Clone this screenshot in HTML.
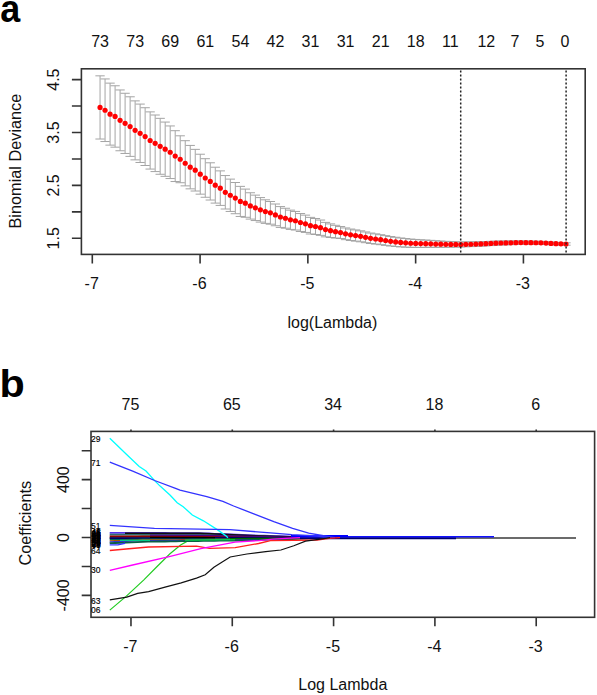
<!DOCTYPE html>
<html><head><meta charset="utf-8"><style>
html,body{margin:0;padding:0;background:#fff;}
body{width:597px;height:695px;overflow:hidden;font-family:"Liberation Sans", sans-serif;}
svg{display:block;}
</style></head><body>
<svg width="597" height="695" viewBox="0 0 597 695"><path d="M100.05 75.83V139.03M95.39 75.83H104.71M95.39 139.03H104.71M105.06 78.95V141.54M100.40 78.95H109.72M100.40 141.54H109.72M110.07 83.14V145.13M105.41 83.14H114.73M105.41 145.13H114.73M115.08 85.77V147.16M110.42 85.77H119.74M110.42 147.16H119.74M120.09 89.96V150.75M115.43 89.96H124.75M115.43 150.75H124.75M125.10 93.27V153.46M120.44 93.27H129.76M120.44 153.46H129.76M130.11 96.79V156.38M125.45 96.79H134.77M125.45 156.38H134.77M135.12 100.88V159.86M130.46 100.88H139.78M130.46 159.86H139.78M140.13 104.09V162.48M135.47 104.09H144.79M135.47 162.48H144.79M145.14 107.72V165.50M140.48 107.72H149.80M140.48 165.50H149.80M150.15 111.89V169.07M145.49 111.89H154.81M145.49 169.07H154.81M155.16 115.01V171.59M150.50 115.01H159.82M150.50 171.59H159.82M160.17 118.33V174.27M155.51 118.33H164.83M155.51 174.27H164.83M165.18 122.07V176.34M160.52 122.07H169.84M160.52 176.34H169.84M170.19 125.95V178.55M165.53 125.95H174.85M165.53 178.55H174.85M175.20 130.70V181.54M170.54 130.70H179.86M170.54 181.54H179.86M180.21 135.80V182.73M175.55 135.80H184.87M175.55 182.73H184.87M185.22 140.69V185.86M180.56 140.69H189.88M180.56 185.86H189.88M190.23 145.43V188.85M185.57 145.43H194.89M185.57 188.85H194.89M195.24 149.36V191.03M190.58 149.36H199.90M190.58 191.03H199.90M200.25 154.22V194.16M195.59 154.22H204.91M195.59 194.16H204.91M205.26 158.69V197.27M200.60 158.69H209.92M200.60 197.27H209.92M210.27 162.79V200.02M205.61 162.79H214.93M205.61 200.02H214.93M215.28 167.23V203.10M210.62 167.23H219.94M210.62 203.10H219.94M220.29 170.88V205.41M215.63 170.88H224.95M215.63 205.41H224.95M225.30 175.56V209.00M220.64 175.56H229.96M220.64 209.00H229.96M230.31 179.11V211.44M225.65 179.11H234.97M225.65 211.44H234.97M235.32 182.50V213.73M230.66 182.50H239.98M230.66 213.73H239.98M240.33 186.37V216.45M235.67 186.37H244.99M235.67 216.45H244.99M245.34 189.10V217.28M240.68 189.10H250.00M240.68 217.28H250.00M250.35 192.76V219.10M245.69 192.76H255.01M245.69 219.10H255.01M255.36 195.13V220.55M250.70 195.13H260.02M250.70 220.55H260.02M260.37 197.58V222.09M255.71 197.58H265.03M255.71 222.09H265.03M265.38 199.80V223.39M260.72 199.80H270.04M260.72 223.39H270.04M270.39 201.52V224.19M265.73 201.52H275.05M265.73 224.19H275.05M275.40 204.00V225.75M270.74 204.00H280.06M270.74 225.75H280.06M280.41 206.58V227.42M275.75 206.58H285.07M275.75 227.42H285.07M285.42 208.26V228.21M280.76 208.26H290.08M280.76 228.21H290.08M290.43 210.14V229.42M285.77 210.14H295.09M285.77 229.42H295.09M295.44 211.45V230.06M290.78 211.45H300.10M290.78 230.06H300.10M300.45 213.54V231.48M295.79 213.54H305.11M295.79 231.48H305.11M305.46 215.14V232.43M300.80 215.14H310.12M300.80 232.43H310.12M310.47 217.36V233.99M305.81 217.36H315.13M305.81 233.99H315.13M315.48 218.51V234.50M310.82 218.51H320.14M310.82 234.50H320.14M320.49 220.04V235.35M315.83 220.04H325.15M315.83 235.35H325.15M325.50 222.38V236.84M320.84 222.38H330.16M320.84 236.84H330.16M330.51 223.90V237.51M325.85 223.90H335.17M325.85 237.51H335.17M335.52 225.30V238.06M330.86 225.30H340.18M330.86 238.06H340.18M340.53 226.55V238.52M335.87 226.55H345.19M335.87 238.52H345.19M345.54 227.95V239.67M340.88 227.95H350.20M340.88 239.67H350.20M350.55 229.05V240.52M345.89 229.05H355.21M345.89 240.52H355.21M355.56 229.92V241.14M350.90 229.92H360.22M350.90 241.14H360.22M360.57 230.83V241.80M355.91 230.83H365.23M355.91 241.80H365.23M365.58 231.96V242.68M360.92 231.96H370.24M360.92 242.68H370.24M370.59 233.05V243.52M365.93 233.05H375.25M365.93 243.52H375.25M375.60 233.87V244.09M370.94 233.87H380.26M370.94 244.09H380.26M380.61 234.71V244.68M375.95 234.71H385.27M375.95 244.68H385.27M385.62 235.64V245.36M380.96 235.64H390.28M380.96 245.36H390.28M390.63 236.54V246.01M385.97 236.54H395.29M385.97 246.01H395.29M395.64 237.27V246.49M390.98 237.27H400.30M390.98 246.49H400.30M400.65 237.97V246.93M395.99 237.97H405.31M395.99 246.93H405.31M405.66 238.54V247.16M401.00 238.54H410.32M401.00 247.16H410.32M410.67 239.08V247.37M406.01 239.08H415.33M406.01 247.37H415.33M415.68 239.45V247.40M411.02 239.45H420.34M411.02 247.40H420.34M420.69 239.80V247.42M416.03 239.80H425.35M416.03 247.42H425.35M425.70 240.07V247.36M421.04 240.07H430.36M421.04 247.36H430.36M430.71 240.35V247.30M426.05 240.35H435.37M426.05 247.30H435.37M435.72 240.72V247.34M431.06 240.72H440.38M431.06 247.34H440.38M440.73 241.07V247.36M436.07 241.07H445.39M436.07 247.36H445.39M445.74 241.34V247.29M441.08 241.34H450.40M441.08 247.29H450.40M450.75 241.60V247.22M446.09 241.60H455.41M446.09 247.22H455.41M455.76 241.82V247.10M451.10 241.82H460.42M451.10 247.10H460.42M460.77 241.99V246.97M456.11 241.99H465.43M456.11 246.97H465.43M465.78 241.93V246.78M461.12 241.93H470.44M461.12 246.78H470.44M470.79 241.86V246.60M466.13 241.86H475.45M466.13 246.60H475.45M475.80 241.80V246.41M471.14 241.80H480.46M471.14 246.41H480.46M480.81 241.71V246.20M476.15 241.71H485.47M476.15 246.20H485.47M485.82 241.53V245.89M481.16 241.53H490.48M481.16 245.89H490.48M490.83 241.34V245.58M486.17 241.34H495.49M486.17 245.58H495.49M495.84 241.15V245.27M491.18 241.15H500.50M491.18 245.27H500.50M500.85 240.98V244.98M496.19 240.98H505.51M496.19 244.98H505.51M505.86 240.95V244.82M501.20 240.95H510.52M501.20 244.82H510.52M510.87 240.91V244.66M506.21 240.91H515.53M506.21 244.66H515.53M515.88 240.87V244.50M511.22 240.87H520.54M511.22 244.50H520.54M520.89 240.86V244.36M516.23 240.86H525.55M516.23 244.36H525.55M525.90 240.97V244.35M521.24 240.97H530.56M521.24 244.35H530.56M530.91 241.08V244.34M526.25 241.08H535.57M526.25 244.34H535.57M535.92 241.19V244.33M531.26 241.19H540.58M531.26 244.33H540.58M540.93 241.34V244.36M536.27 241.34H545.59M536.27 244.36H545.59M545.94 241.67V244.56M541.28 241.67H550.60M541.28 244.56H550.60M550.95 242.00V244.77M546.29 242.00H555.61M546.29 244.77H555.61M555.96 242.31V244.96M551.30 242.31H560.62M551.30 244.96H560.62M560.97 242.56V245.08M556.31 242.56H565.63M556.31 245.08H565.63M565.98 242.80V245.20M561.32 242.80H570.64M561.32 245.20H570.64" stroke="#a4a4a4" stroke-width="1" fill="none"/><g fill="#ff0000"><circle cx="100.05" cy="107.43" r="2.6"/><circle cx="105.06" cy="110.25" r="2.6"/><circle cx="110.07" cy="114.13" r="2.6"/><circle cx="115.08" cy="116.46" r="2.6"/><circle cx="120.09" cy="120.35" r="2.6"/><circle cx="125.10" cy="123.36" r="2.6"/><circle cx="130.11" cy="126.58" r="2.6"/><circle cx="135.12" cy="130.37" r="2.6"/><circle cx="140.13" cy="133.29" r="2.6"/><circle cx="145.14" cy="136.61" r="2.6"/><circle cx="150.15" cy="140.48" r="2.6"/><circle cx="155.16" cy="143.30" r="2.6"/><circle cx="160.17" cy="146.30" r="2.6"/><circle cx="165.18" cy="149.21" r="2.6"/><circle cx="170.19" cy="152.25" r="2.6"/><circle cx="175.20" cy="156.12" r="2.6"/><circle cx="180.21" cy="159.27" r="2.6"/><circle cx="185.22" cy="163.27" r="2.6"/><circle cx="190.23" cy="167.14" r="2.6"/><circle cx="195.24" cy="170.19" r="2.6"/><circle cx="200.25" cy="174.19" r="2.6"/><circle cx="205.26" cy="177.98" r="2.6"/><circle cx="210.27" cy="181.41" r="2.6"/><circle cx="215.28" cy="185.16" r="2.6"/><circle cx="220.29" cy="188.14" r="2.6"/><circle cx="225.30" cy="192.28" r="2.6"/><circle cx="230.31" cy="195.27" r="2.6"/><circle cx="235.32" cy="198.12" r="2.6"/><circle cx="240.33" cy="201.41" r="2.6"/><circle cx="245.34" cy="203.19" r="2.6"/><circle cx="250.35" cy="205.93" r="2.6"/><circle cx="255.36" cy="207.84" r="2.6"/><circle cx="260.37" cy="209.83" r="2.6"/><circle cx="265.38" cy="211.59" r="2.6"/><circle cx="270.39" cy="212.86" r="2.6"/><circle cx="275.40" cy="214.88" r="2.6"/><circle cx="280.41" cy="217.00" r="2.6"/><circle cx="285.42" cy="218.23" r="2.6"/><circle cx="290.43" cy="219.78" r="2.6"/><circle cx="295.44" cy="220.76" r="2.6"/><circle cx="300.45" cy="222.51" r="2.6"/><circle cx="305.46" cy="223.78" r="2.6"/><circle cx="310.47" cy="225.68" r="2.6"/><circle cx="315.48" cy="226.51" r="2.6"/><circle cx="320.49" cy="227.70" r="2.6"/><circle cx="325.50" cy="229.61" r="2.6"/><circle cx="330.51" cy="230.70" r="2.6"/><circle cx="335.52" cy="231.68" r="2.6"/><circle cx="340.53" cy="232.54" r="2.6"/><circle cx="345.54" cy="233.81" r="2.6"/><circle cx="350.55" cy="234.78" r="2.6"/><circle cx="355.56" cy="235.53" r="2.6"/><circle cx="360.57" cy="236.31" r="2.6"/><circle cx="365.58" cy="237.32" r="2.6"/><circle cx="370.59" cy="238.28" r="2.6"/><circle cx="375.60" cy="238.98" r="2.6"/><circle cx="380.61" cy="239.70" r="2.6"/><circle cx="385.62" cy="240.50" r="2.6"/><circle cx="390.63" cy="241.28" r="2.6"/><circle cx="395.64" cy="241.88" r="2.6"/><circle cx="400.65" cy="242.45" r="2.6"/><circle cx="405.66" cy="242.85" r="2.6"/><circle cx="410.67" cy="243.23" r="2.6"/><circle cx="415.68" cy="243.43" r="2.6"/><circle cx="420.69" cy="243.61" r="2.6"/><circle cx="425.70" cy="243.71" r="2.6"/><circle cx="430.71" cy="243.83" r="2.6"/><circle cx="435.72" cy="244.03" r="2.6"/><circle cx="440.73" cy="244.21" r="2.6"/><circle cx="445.74" cy="244.31" r="2.6"/><circle cx="450.75" cy="244.41" r="2.6"/><circle cx="455.76" cy="244.46" r="2.6"/><circle cx="460.77" cy="244.48" r="2.6"/><circle cx="465.78" cy="244.36" r="2.6"/><circle cx="470.79" cy="244.23" r="2.6"/><circle cx="475.80" cy="244.10" r="2.6"/><circle cx="480.81" cy="243.96" r="2.6"/><circle cx="485.82" cy="243.71" r="2.6"/><circle cx="490.83" cy="243.46" r="2.6"/><circle cx="495.84" cy="243.21" r="2.6"/><circle cx="500.85" cy="242.98" r="2.6"/><circle cx="505.86" cy="242.88" r="2.6"/><circle cx="510.87" cy="242.78" r="2.6"/><circle cx="515.88" cy="242.68" r="2.6"/><circle cx="520.89" cy="242.61" r="2.6"/><circle cx="525.90" cy="242.66" r="2.6"/><circle cx="530.91" cy="242.71" r="2.6"/><circle cx="535.92" cy="242.76" r="2.6"/><circle cx="540.93" cy="242.85" r="2.6"/><circle cx="545.94" cy="243.12" r="2.6"/><circle cx="550.95" cy="243.38" r="2.6"/><circle cx="555.96" cy="243.63" r="2.6"/><circle cx="560.97" cy="243.82" r="2.6"/><circle cx="565.98" cy="244.00" r="2.6"/></g><path d="M460.7 68.8V254.4M566.1 68.8V254.4" stroke="#222" stroke-width="1.5" stroke-dasharray="2 2" stroke-dashoffset="2.4" fill="none"/><rect x="81.4" y="68.8" width="503.8" height="185.6" fill="none" stroke="#333" stroke-width="1.6"/><path d="M71.9 238.30H81.4M71.9 211.85H81.4M71.9 185.40H81.4M71.9 158.95H81.4M71.9 132.50H81.4M71.9 106.05H81.4M71.9 79.60H81.4M92.30 254.4V263.6M200.08 254.4V263.6M307.86 254.4V263.6M415.64 254.4V263.6M523.42 254.4V263.6" stroke="#333" stroke-width="1.6" fill="none"/><g font-family='"Liberation Sans", sans-serif' font-size="16" fill="#111"><text transform="translate(58.6,238.30) rotate(-90)" text-anchor="middle">1.5</text><text transform="translate(58.6,185.40) rotate(-90)" text-anchor="middle">2.5</text><text transform="translate(58.6,132.50) rotate(-90)" text-anchor="middle">3.5</text><text transform="translate(58.6,79.60) rotate(-90)" text-anchor="middle">4.5</text><text x="91.70" y="289.3" text-anchor="middle">-7</text><text x="199.48" y="289.3" text-anchor="middle">-6</text><text x="307.26" y="289.3" text-anchor="middle">-5</text><text x="415.04" y="289.3" text-anchor="middle">-4</text><text x="522.82" y="289.3" text-anchor="middle">-3</text><text x="100.10" y="46.5" text-anchor="middle">73</text><text x="135.20" y="46.5" text-anchor="middle">73</text><text x="170.20" y="46.5" text-anchor="middle">69</text><text x="205.30" y="46.5" text-anchor="middle">61</text><text x="240.40" y="46.5" text-anchor="middle">54</text><text x="275.50" y="46.5" text-anchor="middle">42</text><text x="310.50" y="46.5" text-anchor="middle">31</text><text x="345.60" y="46.5" text-anchor="middle">31</text><text x="380.70" y="46.5" text-anchor="middle">21</text><text x="415.70" y="46.5" text-anchor="middle">18</text><text x="450.30" y="46.5" text-anchor="middle">11</text><text x="486.30" y="46.5" text-anchor="middle">12</text><text x="514.90" y="46.5" text-anchor="middle">7</text><text x="540.00" y="46.5" text-anchor="middle">5</text><text x="564.90" y="46.5" text-anchor="middle">0</text><text x="332.4" y="327.7" text-anchor="middle">log(Lambda)</text><text transform="translate(21.4,161.1) rotate(-90)" text-anchor="middle" font-size="16.3">Binomial Deviance</text></g><svg x="91.0" y="431.4" width="503.6" height="185.89999999999998" viewBox="91.0 431.4 503.6 185.89999999999998" overflow="hidden"><path d="M109.7 538.0L576.0 538.0" stroke="#3a3a3a" stroke-width="1.3" fill="none"/><path d="M109.8 610.1L126.1 596.4L143.6 580.1L156.6 567.0L169.7 554.0L180.6 545.0L188.8 540.4L200.0 539.3L240.0 538.5L280.0 537.7" stroke="#22cc22" stroke-width="1.2" fill="none"/><path d="M109.7 532.9L115.2 532.9L120.7 532.9L126.3 532.9L131.8 533.0L137.3 533.0L142.8 533.0L148.3 533.0L153.9 533.0L159.4 533.0L164.9 533.0L170.4 533.1L175.9 533.1L181.5 533.1L187.0 533.1L192.5 533.1L198.0 533.1L203.5 533.3L209.1 533.5L214.6 533.8L220.1 534.0L225.6 534.2L231.2 534.5L236.7 534.7L242.2 535.0L247.7 535.2L253.2 535.4L258.8 535.6L264.3 535.7L269.8 535.9L275.3 536.1L280.8 536.2L286.4 536.4L291.9 536.6L297.4 536.8L302.9 536.9L308.4 537.1L314.0 537.3L319.5 537.5L325.0 537.7" stroke="#5533ee" stroke-width="1.8" fill="none"/><path d="M109.7 534.7L115.2 534.7L120.7 534.7L126.3 534.7L131.8 534.7L137.3 534.7L142.8 534.8L148.3 534.8L153.9 534.8L159.4 534.8L164.9 534.8L170.4 534.8L175.9 534.8L181.5 534.8L187.0 534.8L192.5 534.8L198.0 534.8L203.5 534.9L209.1 535.1L214.6 535.2L220.1 535.4L225.6 535.5L231.2 535.7L236.7 535.8L242.2 536.0L247.7 536.1L253.2 536.3L258.8 536.4L264.3 536.5L269.8 536.6L275.3 536.7L280.8 536.8L286.4 536.9L291.9 537.0L297.4 537.1L302.9 537.2L308.4 537.3L314.0 537.5L319.5 537.6L325.0 537.7" stroke="#2f6f6f" stroke-width="1.8" fill="none"/><path d="M109.7 536.4L115.2 536.4L120.7 536.4L126.3 536.4L131.8 536.4L137.3 536.4L142.8 536.4L148.3 536.4L153.9 536.4L159.4 536.4L164.9 536.4L170.4 536.4L175.9 536.4L181.5 536.5L187.0 536.5L192.5 536.5L198.0 536.5L203.5 536.5L209.1 536.6L214.6 536.6L220.1 536.7L225.6 536.8L231.2 536.8L236.7 536.9L242.2 537.0L247.7 537.0L253.2 537.1L258.8 537.1L264.3 537.2L269.8 537.2L275.3 537.3L280.8 537.3L286.4 537.3L291.9 537.4L297.4 537.4L302.9 537.5L308.4 537.5L314.0 537.6L319.5 537.6L325.0 537.7" stroke="#8b0000" stroke-width="1.9" fill="none"/><path d="M109.7 538.2L115.2 538.2L120.7 538.2L126.3 538.1L131.8 538.1L137.3 538.1L142.8 538.1L148.3 538.1L153.9 538.1L159.4 538.0L164.9 538.0L170.4 538.0L175.9 538.0L181.5 538.0L187.0 538.0L192.5 538.0L198.0 538.0L203.5 538.0L209.1 538.0L214.6 538.0L220.1 538.0L225.6 538.0L231.2 538.0L236.7 538.0L242.2 537.9L247.7 537.9L253.2 537.9L258.8 537.9L264.3 537.9L269.8 537.9L275.3 537.9L280.8 537.8L286.4 537.8L291.9 537.8L297.4 537.8L302.9 537.8L308.4 537.8L314.0 537.7L319.5 537.7L325.0 537.7" stroke="#000060" stroke-width="1.8" fill="none"/><path d="M109.7 539.7L115.2 539.6L120.7 539.5L126.3 539.5L131.8 539.4L137.3 539.3L142.8 539.2L148.3 539.2L153.9 539.1L159.4 539.1L164.9 539.1L170.4 539.0L175.9 539.0L181.5 539.0L187.0 539.0L192.5 538.9L198.0 538.9L203.5 538.9L209.1 538.9L214.6 538.8L220.1 538.8L225.6 538.8L231.2 538.7L236.7 538.7L242.2 538.7L247.7 538.6L253.2 538.6L258.8 538.5L264.3 538.5L269.8 538.4L275.3 538.3L280.8 538.3L286.4 538.2L291.9 538.2L297.4 538.1L302.9 538.0L308.4 537.9L314.0 537.9L319.5 537.8L325.0 537.7" stroke="#006655" stroke-width="1.2" fill="none"/><path d="M109.7 540.7L115.2 540.6L120.7 540.5L126.3 540.4L131.8 540.2L137.3 540.1L142.8 540.0L148.3 539.9L153.9 539.8L159.4 539.8L164.9 539.8L170.4 539.7L175.9 539.7L181.5 539.6L187.0 539.6L192.5 539.5L198.0 539.5L203.5 539.5L209.1 539.4L214.6 539.4L220.1 539.3L225.6 539.3L231.2 539.3L236.7 539.2L242.2 539.2L247.7 539.1L253.2 539.0L258.8 538.9L264.3 538.8L269.8 538.8L275.3 538.7L280.8 538.6L286.4 538.5L291.9 538.4L297.4 538.3L302.9 538.2L308.4 538.1L314.0 537.9L319.5 537.8L325.0 537.7" stroke="#aa5500" stroke-width="1.1" fill="none"/><path d="M109.7 541.8L115.2 541.6L120.7 541.5L126.3 541.3L131.8 541.2L137.3 541.0L142.8 540.9L148.3 540.7L153.9 540.6L159.4 540.6L164.9 540.5L170.4 540.4L175.9 540.4L181.5 540.3L187.0 540.3L192.5 540.2L198.0 540.2L203.5 540.1L209.1 540.1L214.6 540.0L220.1 539.9L225.6 539.9L231.2 539.8L236.7 539.8L242.2 539.7L247.7 539.6L253.2 539.5L258.8 539.4L264.3 539.3L269.8 539.1L275.3 539.0L280.8 538.9L286.4 538.8L291.9 538.7L297.4 538.5L302.9 538.3L308.4 538.2L314.0 538.0L319.5 537.9L325.0 537.7" stroke="#3333cc" stroke-width="1.2" fill="none"/><path d="M109.7 543.2L115.2 543.0L120.7 542.8L126.3 542.6L131.8 542.4L137.3 542.1L142.8 541.9L148.3 541.7L153.9 541.6L159.4 541.5L164.9 541.5L170.4 541.4L175.9 541.3L181.5 541.2L187.0 541.2L192.5 541.1L198.0 541.0L203.5 540.9L209.1 540.9L214.6 540.8L220.1 540.7L225.6 540.6L231.2 540.6L236.7 540.5L242.2 540.4L247.7 540.2L253.2 540.1L258.8 539.9L264.3 539.8L269.8 539.6L275.3 539.5L280.8 539.3L286.4 539.2L291.9 539.0L297.4 538.8L302.9 538.6L308.4 538.4L314.0 538.1L319.5 537.9L325.0 537.7" stroke="#0b5e45" stroke-width="1.8" fill="none"/><path d="M109.7 544.9L118.0 544.9L125.0 543.2" stroke="#3333ff" stroke-width="1.4" fill="none"/><path d="M125.0 533.2L200.0 533.3L250.0 535.5L290.0 536.6L320.0 537.7" stroke="#111111" stroke-width="1.4" fill="none"/><path d="M150.0 535.2L200.0 535.4L260.0 536.5L310.0 537.7" stroke="#4b0082" stroke-width="1.2" fill="none"/><path d="M120.0 540.3L150.0 540.3" stroke="#00cc88" stroke-width="1.3" fill="none"/><path d="M185.0 540.2L235.0 539.6" stroke="#00dd44" stroke-width="1.3" fill="none"/><path d="M150.0 537.3L215.0 537.6" stroke="#000000" stroke-width="1.3" fill="none"/><path d="M230.0 538.6L280.0 538.3" stroke="#006600" stroke-width="1.3" fill="none"/><path d="M300 538.3H456" stroke="#000070" stroke-width="2.1" fill="none"/><path d="M300 536.7H494" stroke="#1010ff" stroke-width="1.5" fill="none"/><path d="M291 536.0H348" stroke="#0000ff" stroke-width="2.0" fill="none"/><path d="M109.8 438.3L126.1 454.0L139.2 466.5L146.0 471.0L155.1 481.1L160.1 486.1L170.2 495.2L177.2 502.7L183.2 506.7L192.3 515.0L203.4 520.8L217.3 529.6L225.6 535.6L228.0 537.7" stroke="#00ffff" stroke-width="1.3" fill="none"/><path d="M109.8 462.2L132.7 471.2L154.6 480.5L176.2 488.6L180.0 490.2L206.8 496.6L222.9 501.4L233.6 506.0L255.1 514.3L273.8 521.6L292.6 528.3L308.7 533.1L322.1 535.5L335.0 537.7" stroke="#3333ff" stroke-width="1.3" fill="none"/><path d="M109.8 525.4L154.4 528.4L230.0 529.7L270.4 532.9L291.9 534.6L317.3 536.0L330.0 537.7" stroke="#3333ff" stroke-width="1.3" fill="none"/><path d="M109.8 550.5L126.1 549.0L148.6 547.0L196.5 546.1L209.5 548.3L235.2 547.6L258.6 543.5L270.4 540.6L317.3 540.0L329.0 538.3L340.0 537.7" stroke="#ff2020" stroke-width="1.3" fill="none"/><path d="M109.8 570.4L132.7 565.0L170.3 556.3L200.8 548.7L235.0 542.2L258.6 540.6L272.7 539.2L300.0 537.7" stroke="#ff00ff" stroke-width="1.3" fill="none"/><path d="M109.8 599.9L126.8 597.1L137.7 593.4L148.6 591.6L166.0 586.8L181.2 582.9L196.5 578.1L205.2 574.8L213.9 567.2L222.6 561.8L230.2 557.0L246.9 554.0L265.7 551.7L280.9 550.0L293.8 545.8L305.5 541.1L322.0 538.8L330.0 537.7" stroke="#111" stroke-width="1.2" fill="none"/></svg><rect x="91.0" y="431.4" width="503.6" height="185.9" fill="none" stroke="#333" stroke-width="1.6"/><path d="M81.7 595.38H91.0M81.7 566.44H91.0M81.7 537.50H91.0M81.7 508.56H91.0M81.7 479.62H91.0M81.7 450.68H91.0M130.97 617.3V626.3M130.97 431.4V429.4M232.28 617.3V626.3M232.28 431.4V429.4M333.59 617.3V626.3M333.59 431.4V429.4M434.90 617.3V626.3M434.90 431.4V429.4M536.21 617.3V626.3M536.21 431.4V429.4" stroke="#333" stroke-width="1.6" fill="none"/><g font-family='"Liberation Sans", sans-serif' font-size="16" fill="#111"><text transform="translate(68.7,595.38) rotate(-90)" text-anchor="middle">-400</text><text transform="translate(68.7,537.50) rotate(-90)" text-anchor="middle">0</text><text transform="translate(68.7,479.62) rotate(-90)" text-anchor="middle">400</text><text x="130.37" y="651.6" text-anchor="middle">-7</text><text x="231.68" y="651.6" text-anchor="middle">-6</text><text x="332.99" y="651.6" text-anchor="middle">-5</text><text x="434.30" y="651.6" text-anchor="middle">-4</text><text x="535.61" y="651.6" text-anchor="middle">-3</text><text x="130.47" y="409.5" text-anchor="middle">75</text><text x="231.78" y="409.5" text-anchor="middle">65</text><text x="333.09" y="409.5" text-anchor="middle">34</text><text x="434.40" y="409.5" text-anchor="middle">18</text><text x="535.71" y="409.5" text-anchor="middle">6</text><text x="342.8" y="690.2" text-anchor="middle">Log Lambda</text><text transform="translate(31.3,523.15) rotate(-90)" text-anchor="middle" font-size="16.3">Coefficients</text></g><g font-family='"Liberation Sans", sans-serif' font-size="8.5" fill="#000" stroke="#000" stroke-width="0.15"><text x="91.0" y="441.9">29</text><text x="91.0" y="465.8">71</text><text x="91.0" y="528.6">51</text><text x="91.0" y="553.8">64</text><text x="91.0" y="573.3">30</text><text x="91.0" y="603.8">63</text><text x="91.0" y="612.8">06</text><g font-weight="bold"><text x="91.4" y="535.4">48</text><text x="91.4" y="536.4">11</text><text x="91.4" y="537.4">80</text><text x="91.4" y="538.4">45</text><text x="91.4" y="539.4">19</text><text x="91.4" y="540.4">88</text><text x="91.4" y="541.4">23</text><text x="91.4" y="542.4">33</text><text x="91.4" y="543.4">08</text><text x="91.4" y="544.4">47</text><text x="91.4" y="545.4">56</text><text x="91.4" y="546.4">39</text><text x="91.4" y="547.4">20</text><text x="91.4" y="548.4">68</text></g></g><text transform="translate(0.2,22) scale(0.91,1)" font-family='"Liberation Sans", sans-serif' font-size="39.5" font-weight="bold" fill="#000">a</text><text transform="translate(-0.6,397.4) scale(1.06,1)" font-family='"Liberation Sans", sans-serif' font-size="39" font-weight="bold" fill="#000">b</text></svg>
</body></html>
